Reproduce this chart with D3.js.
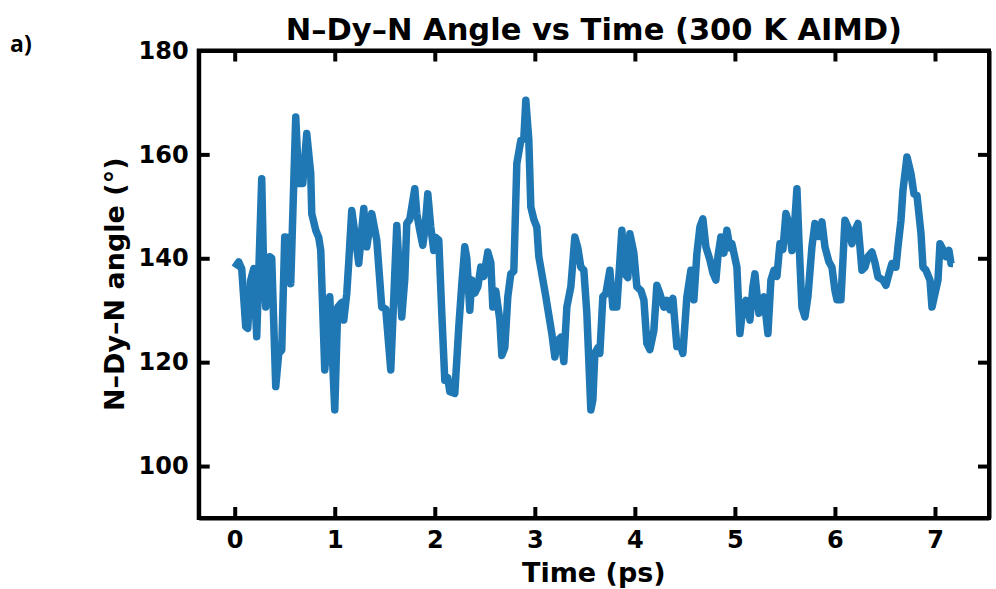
<!DOCTYPE html>
<meta charset="utf-8">
<head>
  <title>N-Dy-N Angle vs Time</title>
  <script src="https://cdnjs.cloudflare.com/ajax/libs/d3/7.8.5/d3.min.js"></script>
</head>
<style>
  body {
    margin: 0;
    background: white;
  }
  svg text {
    font-family: "DejaVu Sans", sans-serif;
    font-weight: bold;
    fill: black;
  }
  .axis path, .axis line {
    stroke: black;
    stroke-width: 4;
  }
</style>
<body>
<div id="chart"></div>
<script>
// time in ps, angle in degrees
var time = [0, 0.04, 0.07, 0.11, 0.13, 0.16, 0.19, 0.22, 0.27, 0.29, 0.31, 0.33, 0.35, 0.37, 0.41, 0.44, 0.47, 0.50, 0.53, 0.56,
  0.61, 0.64, 0.68, 0.72, 0.76, 0.77, 0.81, 0.84, 0.86, 0.90, 0.92, 0.95, 1.00, 1.03, 1.07, 1.09, 1.12, 1.14, 1.17, 1.20,
  1.24, 1.29, 1.32, 1.37, 1.42, 1.47, 1.51, 1.56, 1.62, 1.67, 1.70, 1.72, 1.75, 1.80, 1.82, 1.85, 1.88, 1.90, 1.93, 1.96,
  1.99, 2.01, 2.04, 2.07, 2.10, 2.13, 2.15, 2.20, 2.24, 2.27, 2.30, 2.32, 2.35, 2.37, 2.40, 2.43, 2.46, 2.49, 2.53, 2.56,
  2.58, 2.61, 2.65, 2.67, 2.70, 2.73, 2.76, 2.79, 2.82, 2.86, 2.89, 2.91, 2.94, 2.96, 2.99, 3.02, 3.04, 3.07, 3.11, 3.13,
  3.17, 3.20, 3.23, 3.26, 3.29, 3.32, 3.36, 3.40, 3.43, 3.46, 3.49, 3.52, 3.56, 3.58, 3.60, 3.63, 3.65, 3.68, 3.71, 3.75,
  3.78, 3.82, 3.87, 3.90, 3.93, 3.95, 3.99, 4.02, 4.06, 4.09, 4.12, 4.15, 4.19, 4.22, 4.25, 4.29, 4.32, 4.35, 4.38, 4.42,
  4.45, 4.48, 4.52, 4.56, 4.59, 4.62, 4.65, 4.68, 4.71, 4.75, 4.78, 4.81, 4.83, 4.86, 4.89, 4.92, 4.95, 4.97, 5.02, 5.05,
  5.08, 5.11, 5.15, 5.18, 5.20, 5.24, 5.29, 5.33, 5.36, 5.39, 5.42, 5.45, 5.48, 5.51, 5.54, 5.57, 5.59, 5.62, 5.64, 5.67,
  5.70, 5.73, 5.77, 5.80, 5.84, 5.87, 5.90, 5.94, 5.97, 6.00, 6.02, 6.06, 6.10, 6.13, 6.17, 6.20, 6.23, 6.27, 6.30, 6.33,
  6.37, 6.40, 6.43, 6.48, 6.51, 6.54, 6.57, 6.61, 6.63, 6.66, 6.68, 6.72, 6.76, 6.79, 6.82, 6.86, 6.88, 6.91, 6.95, 6.97,
  7.00, 7.03, 7.05, 7.08, 7.11, 7.14, 7.16, 7.18];

var angle = [138.2, 139.3, 138, 126.8, 126.5, 135.8, 138, 124.9, 155.3, 137, 130.6, 136, 140.3, 140, 115.3, 121.7, 122.3, 144.1, 144, 135.1,
  167.2, 154.4, 154.4, 164, 156.3, 148.6, 145.4, 144, 141.5, 118.5, 123, 132.6, 110.8, 130.6, 131.5, 128.1, 133.2, 139.3, 149.2, 145,
  139, 149.6, 142.2, 148.6, 143.5, 130.6, 130.2, 118.5, 146.3, 128.7, 136, 146.7, 147.5, 153.4, 148.6, 145.4, 142.5, 145.4, 152.4, 146,
  141.5, 144, 143.5, 129.4, 116.5, 117, 114.3, 114, 126.8, 135, 142.2, 140, 130, 135.8, 133.3, 134.5, 138.3, 136.5, 141.2, 139.2,
  130.6, 133.7, 128.1, 121.3, 122.8, 132.6, 137, 137.5, 158.2, 162.7, 163, 170.4, 162.7, 149.9, 147.5, 146, 140.3, 137, 132.6, 130.2,
  125.5, 121, 124.2, 124.8, 120.1, 130.6, 134.5, 144.1, 142, 138.3, 137.7, 129.4, 110.8, 112.7, 121.7, 122.8, 121.7, 132.6, 133.2, 137.7,
  130.6, 130.6, 145.4, 137, 136.3, 144.7, 141, 134.5, 133.8, 132, 123.6, 122.4, 126.1, 134.8, 133.2, 130.6, 131.9, 130.1, 132.3, 123,
  123.6, 121.7, 132.6, 137.7, 132, 140.9, 146, 147.6, 142.2, 139.7, 137.2, 135.8, 140.3, 144.1, 141, 145.4, 142, 142.8, 138.3, 125.5,
  130.6, 131.9, 128.1, 134.5, 137, 129.4, 132.6, 125.5, 135.8, 137.7, 136.5, 142.8, 141.7, 148.6, 146.7, 141.5, 144.6, 153.4, 143.5, 130.6,
  128.7, 132.6, 142.2, 146.7, 144.2, 147, 142.2, 139.3, 138.3, 133.8, 132, 132, 147.3, 146, 142.8, 145.4, 146.7, 137.7, 138.3, 140.3,
  141.2, 139.2, 136.4, 135.8, 134.8, 137, 139, 138.3, 142.2, 147.3, 153.1, 159.5, 156.3, 152.4, 152.1, 144.8, 138.3, 137.7, 135.8, 130.6,
  133.2, 135.8, 142.8, 141.7, 140.3, 141.5, 139, 139];

var xTicks = [0, 1, 2, 3, 4, 5, 6, 7];
var yTicks = [100, 120, 140, 160, 180];

var WIDTH = 996;
var HEIGHT = 589;
var margin = {left: 198.7, right: 996 - 989, top: 50.5, bottom: 589 - 518};

var svg = d3.select("#chart").append("svg")
  .attr("width", WIDTH)
  .attr("height", HEIGHT);

// matplotlib-ish 5% margins on x, fixed limits on y
var x = d3.scaleLinear()
  .domain([-0.36, 7.54])
  .range([margin.left, WIDTH - margin.right]);

var y = d3.scaleLinear()
  .domain([90, 180])
  .range([HEIGHT - margin.bottom, margin.top]);

var pts = time.map(function(t, i) { return [t, angle[i]]; });

var line = d3.line()
  .x(function(d) { return x(d[0]); })
  .y(function(d) { return y(d[1]); });

svg.append("path")
  .datum(pts)
  .attr("d", line)
  .attr("fill", "none")
  .attr("stroke", "#1f77b4")
  .attr("stroke-width", 7.5)
  .attr("stroke-linejoin", "round");

// ticks point inward on all four sides
var tickLen = 11;

var bottom = svg.append("g")
  .attr("class", "axis")
  .attr("transform", "translate(0," + (HEIGHT - margin.bottom) + ")")
  .call(d3.axisBottom(x).tickValues(xTicks).tickSize(-tickLen).tickPadding(13).tickSizeOuter(0));
bottom.selectAll("text").style("font-size", "24px");

var left = svg.append("g")
  .attr("class", "axis")
  .attr("transform", "translate(" + margin.left + ",0)")
  .call(d3.axisLeft(y).tickValues(yTicks).tickSize(-tickLen).tickPadding(10).tickSizeOuter(0));
left.selectAll("text").style("font-size", "24px");

svg.append("g")
  .attr("class", "axis")
  .attr("transform", "translate(0," + margin.top + ")")
  .call(d3.axisTop(x).tickValues(xTicks).tickSize(-tickLen).tickFormat("").tickSizeOuter(0));

svg.append("g")
  .attr("class", "axis")
  .attr("transform", "translate(" + (WIDTH - margin.right) + ",0)")
  .call(d3.axisRight(y).tickValues(yTicks).tickSize(-tickLen).tickFormat("").tickSizeOuter(0));

// frame
svg.append("rect")
  .attr("x", margin.left)
  .attr("y", margin.top)
  .attr("width", WIDTH - margin.right - margin.left)
  .attr("height", HEIGHT - margin.bottom - margin.top)
  .attr("fill", "none")
  .attr("stroke", "black")
  .attr("stroke-width", 4);

var cx = (margin.left + WIDTH - margin.right) / 2;

svg.append("text")
  .attr("x", cx)
  .attr("y", 40)
  .attr("text-anchor", "middle")
  .style("font-size", "30.5px")
  .text("N–Dy–N Angle vs Time (300 K AIMD)");

svg.append("text")
  .attr("x", cx)
  .attr("y", 582)
  .attr("text-anchor", "middle")
  .style("font-size", "27px")
  .text("Time (ps)");

svg.append("text")
  .attr("transform", "translate(124," + ((margin.top + HEIGHT - margin.bottom) / 2) + ") rotate(-90)")
  .attr("text-anchor", "middle")
  .style("font-size", "27px")
  .text("N–Dy–N angle (°)");

svg.append("text")
  .attr("x", 10)
  .attr("y", 52)
  .style("font-family", "'Open Sans', 'Liberation Sans', sans-serif")
  .style("font-weight", "700")
  .style("font-size", "23px")
  .text("a)");
</script>
</body>
